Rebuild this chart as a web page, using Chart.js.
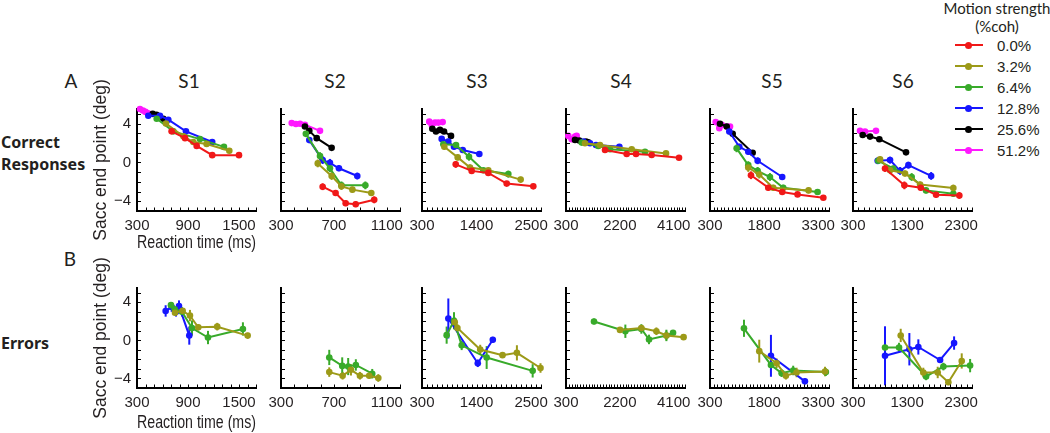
<!DOCTYPE html>
<html><head><meta charset="utf-8">
<script src="https://cdn.jsdelivr.net/npm/chart.js@4.4.1/dist/chart.umd.min.js"></script>
<style>
html,body{margin:0;padding:0;background:#fff;width:1050px;height:433px;overflow:hidden;position:relative;font-family:"Liberation Sans",Arial,sans-serif;color:#231f20}
canvas{position:absolute}
.t{position:absolute;white-space:nowrap;line-height:1}
.c{transform:translate(-50%,-50%)}
.l{transform:translateY(-50%)}
.my{font-family:Lato,"Noto Sans",sans-serif}
.bd{font-family:"Noto Sans",sans-serif;font-weight:bold;font-size:16px}
</style></head><body>
<script>
// ---------- labels / categories ----------
const subjects = ['S1','S2','S3','S4','S5','S6'];
const seriesLabels = ['0.0%','3.2%','6.4%','12.8%','25.6%','51.2%'];
const seriesColors = ['#f01818','#9c9a18','#38aa2a','#1616ff','#000000','#ff18ff'];
const xMin = [300,300,300,300,300,300];
const xMax = [1700,1200,2700,4500,3600,2500];
const xTicks = [[300,900,1500],[300,700,1100],[300,1400,2500],[300,2200,4100],[300,1800,3300],[300,1300,2300]];
const yTicks = [-4,0,4];
const yMin = -5, yMax = 5.5;

// ---------- A: correct responses  [RT ms, end point deg, s.e.] ----------
const s1c_00  = [[707,3.2,0.2],[865,2.5,0.2],[1002,1.7,0.2],[1185,0.75,0.2],[1500,0.75,0.2]];
const s1c_32  = [[641,4.0,0.2],[845,2.7,0.2],[962,2.1,0.2],[1119,1.9,0.2],[1386,1.2,0.2]];
const s1c_64  = [[532,4.5,0.2],[727,3.2,0.2],[1041,2.4,0.2],[1323,1.6,0.2]];
const s1c_128 = [[433,4.8,0.1],[570,4.8,0.1],[668,4.4,0.1],[876,3.2,0.1],[1185,2.1,0.2]];
const s1c_256 = [[485,5.0,0.1],[530,4.9,0.1],[610,4.5,0.1]];
const s1c_512 = [[335,5.5,0.1],[370,5.35,0.1],[400,5.2,0.1],[430,5.05,0.1]];

const s2c_00  = [[615,-2.5,0.35],[713,-3.15,0.3],[789,-4.2,0.3],[865,-4.3,0.3],[1005,-3.85,0.35]];
const s2c_32  = [[578,-0.1,0.4],[683,-1.4,0.4],[757,-2.46,0.35],[840,-2.8,0.3],[983,-3.15,0.3]];
const s2c_64  = [[488,2.94,0.3],[595,0.65,0.4],[670,-0.6,0.4],[757,-2.36,0.4],[938,-2.36,0.4]];
const s2c_128 = [[514,2.3,0.3],[615,0.24,0.4],[670,-0.04,0.4],[738,-0.6,0.3],[877,-1.4,0.35]];
const s2c_256 = [[481,3.7,0.1],[514,3.25,0.1],[570,2.5,0.1],[683,1.5,0.15]];
const s2c_512 = [[381,4.05,0.1],[413,3.95,0.1],[444,3.98,0.1],[481,3.87,0.1],[595,3.25,0.1]];

const s3c_00  = [[980,-0.2,0.35],[1302,-0.87,0.3],[1637,-1.08,0.3],[2008,-2.18,0.2],[2545,-2.46,0.2]];
const s3c_32  = [[750,1.62,0.3],[1020,0.52,0.3],[1268,-0.52,0.3],[1637,-0.8,0.2],[2290,-1.77,0.3]];
const s3c_64  = [[730,1.87,0.3],[986,1.8,0.3],[1248,0.58,0.4],[1537,-0.8,0.2],[2041,-1.2,0.35]];
const s3c_128 = [[697,2.42,0.3],[830,2.14,0.3],[945,1.62,0.3],[1121,1.28,0.2],[1456,0.86,0.3]];
const s3c_256 = [[508,3.46,0.1],[582,3.18,0.1],[663,3.35,0.1],[744,3.18,0.1],[885,2.73,0.1]];
const s3c_512 = [[447,4.2,0.1],[496,3.87,0.1],[562,4.1,0.1],[629,4.1,0.1],[717,4.15,0.1]];

const s4c_00  = [[1677,1.28,0.15],[2442,0.86,0.15],[2771,0.86,0.15],[3324,0.76,0.15],[4289,0.48,0.15]];
const s4c_32  = [[971,1.97,0.1],[1500,1.8,0.15],[2619,1.35,0.15],[3830,0.93,0.15]];
const s4c_64  = [[854,2.04,0.1],[1440,1.69,0.15],[1853,1.35,0.15],[3089,1.1,0.15]];
const s4c_128 = [[911,2.14,0.1],[1147,1.97,0.1],[1359,1.8,0.1],[2183,1.62,0.1]];
const s4c_256 = [[618,2.32,0.1],[770,2.25,0.1],[1006,2.14,0.1],[1087,2.08,0.1]];
const s4c_512 = [[382,2.73,0.1],[500,2.39,0.1],[618,2.66,0.1],[677,2.73,0.1]];

const s5c_00  = [[1436,-1.32,0.4],[1915,-2.6,0.3],[2303,-3.05,0.2],[2728,-3.29,0.2],[3443,-3.63,0.2]];
const s5c_32  = [[1361,-0.52,0.45],[1666,-1.25,0.4],[2054,-2.6,0.3],[3034,-2.88,0.3]];
const s5c_64  = [[1039,1.45,0.4],[1361,-0.28,0.4],[1621,-0.87,0.4],[1963,-1.5,0.4],[2331,-2.6,0.3],[3283,-3.05,0.3]];
const s5c_128 = [[835,3.18,0.3],[1112,1.62,0.3],[1361,1.1,0.3],[1621,0.17,0.35],[2303,-1.5,0.3]];
const s5c_256 = [[577,3.98,0.1],[763,3.7,0.1],[929,2.94,0.15],[1483,1.0,0.15]];
const s5c_512 = [[458,4.15,0.1],[558,3.53,0.1],[624,3.87,0.1],[763,3.7,0.1],[855,3.7,0.1]];

const s6c_00  = [[892,-0.62,0.35],[1250,-2.36,0.4],[1553,-2.6,0.3],[1836,-3.32,0.3],[2266,-3.4,0.35]];
const s6c_32  = [[800,0.31,0.3],[985,-0.8,0.4],[1262,-1.14,0.3],[1540,-2.28,0.3],[2155,-2.64,0.35]];
const s6c_64  = [[767,0.17,0.3],[1045,-0.62,0.3],[1385,-1.5,0.4],[1650,-2.88,0.3],[2155,-3.22,0.3]];
const s6c_128 = [[756,0.17,0.35],[985,0.24,0.35],[1170,-0.87,0.4],[1324,-0.28,0.35],[1745,-1.39,0.4]];
const s6c_256 = [[479,2.83,0.1],[615,2.66,0.1],[787,2.39,0.1],[1280,1.04,0.15]];
const s6c_512 = [[430,3.25,0.1],[522,3.18,0.1],[725,3.25,0.1]];

// ---------- B: errors  [RT ms, end point deg, s.e.] ----------
const s1e_32  = [[747,2.9,0.3],[837,3.1,0.3],[923,2.6,0.6],[1021,1.37,0.3],[1244,1.44,0.4],[1602,0.5,0.3]];
const s1e_64  = [[700,3.7,0.3],[743,3.27,0.3],[829,3.0,0.5],[947,1.3,0.8],[1135,0.3,0.7],[1546,1.2,0.7]];
const s1e_128 = [[637,3.09,0.6],[708,3.5,0.5],[759,3.0,0.5],[794,3.6,0.6],[915,0.5,0.95]];

const s2e_32  = [[665,-3.33,0.5],[766,-3.71,0.4],[829,-3.09,0.6],[897,-3.71,0.4],[967,-3.71,0.3],[1036,-3.95,0.4]];
const s2e_64  = [[665,-1.79,0.8],[763,-2.68,0.9],[808,-2.75,0.9],[866,-2.58,0.6],[990,-3.5,0.5]];

const s3e_32  = [[960,1.9,0.5],[1014,1.3,0.4],[1474,-0.96,0.5],[1924,-1.55,0.3],[2214,-1.31,0.8],[2690,-2.9,0.5]];
const s3e_64  = [[797,0.55,0.9],[945,2.06,0.9],[1100,-0.52,0.5],[1604,-1.8,1.2],[2532,-3.2,0.7]];
const s3e_128 = [[831,2.3,2.1],[1425,-2.4,0.4],[1728,0.07,0.3]];

const s4e_32  = [[2206,1.1,0.2],[2960,1.3,0.3],[3490,0.96,0.4],[3843,0.52,0.5],[4450,0.34,0.2]];
const s4e_64  = [[1288,1.99,0.3],[2395,0.96,0.7],[2960,1.2,0.5],[3230,0.1,0.5],[3843,0.52,0.6],[4078,0.8,0.2]];

const s5e_32  = [[1666,-1.13,1.2],[2147,-2.4,0.5],[2404,-3.71,0.4],[2701,-3.37,0.5],[3490,-3.27,0.5]];
const s5e_64  = [[1242,1.27,0.9],[1990,-2.58,0.5],[2286,-3.44,0.4],[2607,-3.16,0.5],[3513,-3.33,0.4]];
const s5e_128 = [[1990,-1.62,2.2],[2932,-4.3,0.3]];

const s6e_32  = [[1182,0.52,0.7],[1600,-3.37,0.5],[1866,-3.37,0.6],[2063,-4.4,0.3],[2310,-2.16,0.8]];
const s6e_64  = [[892,-0.75,0.5],[1151,-0.75,0.5],[1651,-3.78,0.4],[1971,-2.75,0.4],[2465,-2.65,0.7]];
const s6e_128 = [[892,-1.62,3.1],[1342,-0.93,1.7],[1508,-0.69,0.8],[1910,-2.06,0.3],[2169,-0.28,0.7]];

const correctSets = [
  [s1c_00,s1c_32,s1c_64,s1c_128,s1c_256,s1c_512],
  [s2c_00,s2c_32,s2c_64,s2c_128,s2c_256,s2c_512],
  [s3c_00,s3c_32,s3c_64,s3c_128,s3c_256,s3c_512],
  [s4c_00,s4c_32,s4c_64,s4c_128,s4c_256,s4c_512],
  [s5c_00,s5c_32,s5c_64,s5c_128,s5c_256,s5c_512],
  [s6c_00,s6c_32,s6c_64,s6c_128,s6c_256,s6c_512]];
const errorSets = [
  [null,s1e_32,s1e_64,s1e_128,null,null],
  [null,s2e_32,s2e_64,null,null,null],
  [null,s3e_32,s3e_64,s3e_128,null,null],
  [null,s4e_32,s4e_64,null,null,null],
  [null,s5e_32,s5e_64,s5e_128,null,null],
  [null,s6e_32,s6e_64,s6e_128,null,null]];

// ---------- layout ----------
const axisLeft = [137,281,422,566,710,853];
const PLOT_W = 119;
const rowTop = [109,288];
const plotH = [102,100];
const titleX = [189,335,477,621,772,903];

Chart.defaults.font.family = "'Liberation Sans', Arial, sans-serif";

function addText(txt, x, y, cls, css) {
  const d = document.createElement('div');
  d.className = 't ' + cls;
  d.textContent = txt;
  d.style.left = x + 'px'; d.style.top = y + 'px';
  if (css) Object.assign(d.style, css);
  document.body.appendChild(d);
  return d;
}
function addCanvas(left, top, w, h) {
  const c = document.createElement('canvas');
  c.width = w; c.height = h;
  Object.assign(c.style, {left: left + 'px', top: top + 'px', width: w + 'px', height: h + 'px'});
  document.body.appendChild(c);
  return c;
}

const errorBars = {
  id: 'errorBars',
  beforeDatasetsDraw(chart) {
    const {ctx, scales: {x, y}} = chart;
    ctx.save();
    chart.data.datasets.forEach(ds => {
      ctx.strokeStyle = ds.borderColor; ctx.lineWidth = 2;
      ds.data.forEach(p => {
        if (!p.e) return;
        const px = x.getPixelForValue(p.x);
        ctx.beginPath();
        ctx.moveTo(px, y.getPixelForValue(p.y - p.e));
        ctx.lineTo(px, y.getPixelForValue(p.y + p.e));
        ctx.stroke();
      });
    });
    ctx.restore();
  }
};
const minorTicks = {
  id: 'minorTicks',
  afterDraw(chart) {
    const {ctx, chartArea: a, scales: {x, y}} = chart;
    ctx.save(); ctx.strokeStyle = '#000'; ctx.lineWidth = 1;
    ctx.beginPath();
    for (let v = x.min; v <= x.max + 1e-6; v += 100) {
      const px = Math.round(x.getPixelForValue(v)) + 0.5;
      ctx.moveTo(px, a.bottom); ctx.lineTo(px, a.bottom - 3.5);
    }
    for (let v = -5; v <= 5; v += 1) {
      const py = Math.round(y.getPixelForValue(v)) + 0.5;
      ctx.moveTo(a.left, py); ctx.lineTo(a.left + 4, py);
    }
    ctx.stroke(); ctx.restore();
  }
};

const tickFont = {family: "'Liberation Sans', Arial, sans-serif", size: 15};
const titleFont = {family: "'Liberation Sans', Arial, sans-serif", size: 17.5};

function makePanel(si, row, sets) {
  const first = si === 0;
  const YW = first ? 46 : 22, TP = 32, RP = 20, XH = row === 0 ? 44 : 46;
  const W = YW + PLOT_W + RP, H = TP + plotH[row] + XH;
  const cv = addCanvas(axisLeft[si] - YW, rowTop[row] - TP, W, H);
  const datasets = [];
  sets.forEach((arr, k) => {
    if (!arr) return;
    datasets.push({
      label: seriesLabels[k],
      data: arr.map(p => ({x: p[0], y: p[1], e: p[2]})),
      borderColor: seriesColors[k], backgroundColor: seriesColors[k],
      pointBackgroundColor: seriesColors[k], pointBorderWidth: 0,
      pointRadius: 3.3, pointHoverRadius: 3.3, borderWidth: 2, tension: 0, clip: false
    });
  });
  new Chart(cv, {
    type: 'line',
    data: {datasets},
    options: {
      responsive: false, animation: false, events: [], devicePixelRatio: 1,
      layout: {padding: {top: TP, right: RP, left: 0, bottom: 0}},
      plugins: {legend: {display: false}, tooltip: {enabled: false}},
      scales: {
        x: {
          type: 'linear', min: xMin[si], max: xMax[si],
          grid: {display: false, drawTicks: false},
          border: {display: true, color: '#000', width: 2},
          ticks: {font: tickFont, color: '#231f20', padding: 6, maxRotation: 0, autoSkip: false, callback: v => String(v)},
          afterBuildTicks: s => { s.ticks = xTicks[si].map(v => ({value: v})); },
          afterFit: s => { s.height = XH; },
          title: {display: first, text: 'Reaction time (ms)', font: titleFont, color: '#231f20', padding: {top: 0, bottom: row === 0 ? 1 : 0}}
        },
        y: {
          type: 'linear', min: yMin, max: yMax,
          grid: {display: false, drawTicks: false},
          border: {display: true, color: '#000', width: 2},
          ticks: {display: first, font: tickFont, color: '#231f20', padding: 6, callback: v => v < 0 ? '\u2212' + Math.abs(v) : String(v)},
          afterBuildTicks: s => { s.ticks = yTicks.map(v => ({value: v})); },
          afterFit: s => { s.width = YW; },
          title: {display: first, text: 'Sacc end point (deg)', font: titleFont, color: '#231f20', padding: 0}
        }
      }
    },
    plugins: [errorBars, minorTicks]
  });
}

// ---------- text ----------
addText('A', 71, 80, 'c my', {fontSize: '19px'});
addText('B', 70, 258, 'c my', {fontSize: '19px'});
subjects.forEach((s, i) => addText(s, titleX[i], 80, 'c my', {fontSize: '19px'}));
addText('Correct', 1, 142, 'l bd');
addText('Responses', 1, 164, 'l bd');
addText('Errors', 1, 343, 'l bd');
addText('Motion strength', 997, 8, 'c my', {fontSize: '15px'});
addText('(%coh)', 997, 26, 'c my', {fontSize: '15px'});
seriesLabels.forEach((lab, k) => {
  const y = 45 + k * 21;
  const ln = document.createElement('div');
  Object.assign(ln.style, {position: 'absolute', left: '955px', top: (y - 1) + 'px', width: '28px', height: '2px', background: seriesColors[k]});
  document.body.appendChild(ln);
  const dot = document.createElement('div');
  Object.assign(dot.style, {position: 'absolute', left: '965px', top: (y - 3.5) + 'px', width: '7px', height: '7px', borderRadius: '50%', background: seriesColors[k]});
  document.body.appendChild(dot);
  addText(lab, 997, y, 'l', {fontSize: '15px'});
});

// ---------- charts ----------
for (let i = 0; i < 6; i++) {
  makePanel(i, 0, correctSets[i]);
  makePanel(i, 1, errorSets[i]);
}
</script>
</body></html>
